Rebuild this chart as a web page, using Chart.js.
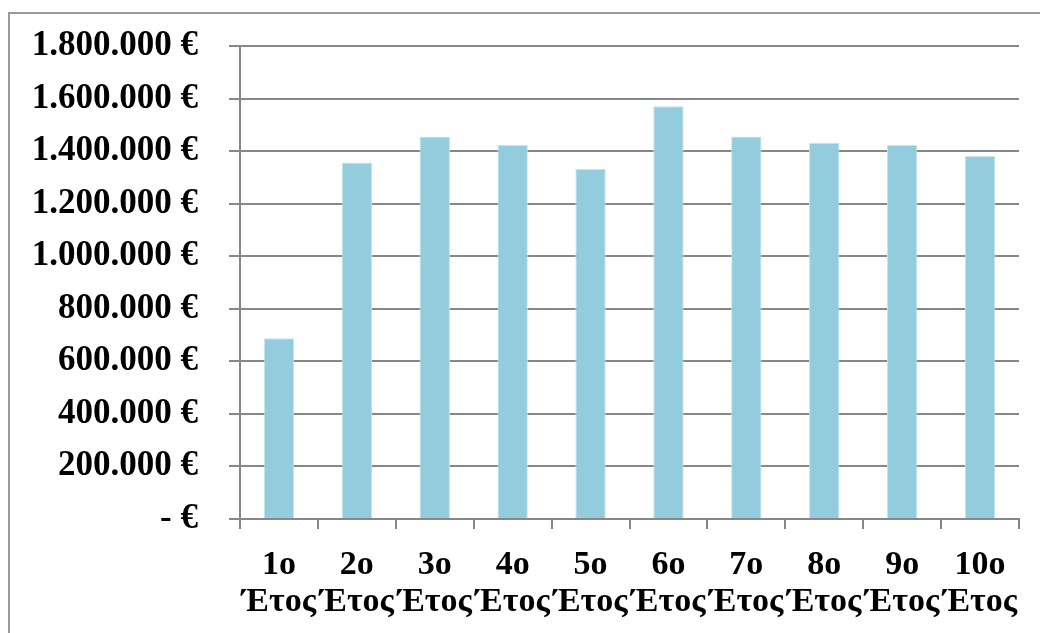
<!DOCTYPE html>
<html>
<head>
<meta charset="utf-8">
<script src="https://cdn.jsdelivr.net/npm/chart.js@4.4.1/dist/chart.umd.min.js"></script>
<style>
  html, body { margin: 0; padding: 0; background: #fff; }
  body { width: 1040px; height: 633px; position: relative; overflow: hidden; }
  #frame {
    position: absolute; left: 8px; top: 12px; width: 1100px; height: 700px;
    border: 2px solid #9a9a9a; box-sizing: border-box;
  }
  #wrap { position: absolute; left: 0; top: 0; width: 1040px; height: 633px; }
</style>
</head>
<body>
<div id="frame"></div>
<div id="wrap"><canvas id="c" width="1040" height="633"></canvas></div>
<script>
// Annual amounts per year (€)
const years = [["1ο", "Έτος"], ["2ο", "Έτος"], ["3ο", "Έτος"], ["4ο", "Έτος"], ["5ο", "Έτος"],
               ["6ο", "Έτος"], ["7ο", "Έτος"], ["8ο", "Έτος"], ["9ο", "Έτος"], ["10ο", "Έτος"]];
const amounts = [688000, 1357000, 1456000, 1423000, 1332000, 1571000, 1456000, 1432000, 1423000, 1381000];
const yMin = 0;
const yMax = 1800000;
const yStep = 200000;

function euro(v) {
  if (v === 0) return "- €";
  return v.toString().replace(/\B(?=(\d{3})+(?!\d))/g, ".") + " €";
}

const gridColor = "#878787";
const serif = "'Liberation Serif', 'Times New Roman', serif";

new Chart(document.getElementById("c"), {
  type: "bar",
  data: {
    labels: years,
    datasets: [{
      data: amounts,
      backgroundColor: "#93cddd",
      borderColor: "#c4e5ee",
      borderWidth: 1,
      categoryPercentage: 1,
      barPercentage: 0.39
    }]
  },
  options: {
    responsive: false,
    animation: false,
    devicePixelRatio: 1,
    layout: { padding: { left: 0, right: 21, top: 46, bottom: 0 } },
    plugins: { legend: { display: false }, tooltip: { enabled: false } },
    scales: {
      x: {
        grid: {
          offset: true,
          drawOnChartArea: false,
          drawTicks: true,
          tickLength: 10,
          color: gridColor,
          lineWidth: 2
        },
        border: { display: true, color: gridColor, width: 2 },
        ticks: {
          color: "#000",
          font: { family: serif, size: 34, weight: "bold", lineHeight: 1.1 },
          padding: 17.5,
          maxRotation: 0,
          minRotation: 0,
          autoSkip: false
        },
        afterFit: s => { s.height = 633 - 519; }
      },
      y: {
        min: yMin,
        max: yMax,
        grid: {
          color: gridColor,
          lineWidth: 2,
          tickLength: 11,
          drawTicks: true
        },
        border: { display: true, color: gridColor, width: 2 },
        ticks: {
          stepSize: yStep,
          color: "#000",
          font: { family: serif, size: 35, weight: "bold" },
          padding: 31,
          callback: v => euro(v)
        },
        afterFit: s => { s.width = 240; s.paddingTop = 0; s.paddingBottom = 0; }
      }
    }
  }
});
</script>
</body>
</html>
